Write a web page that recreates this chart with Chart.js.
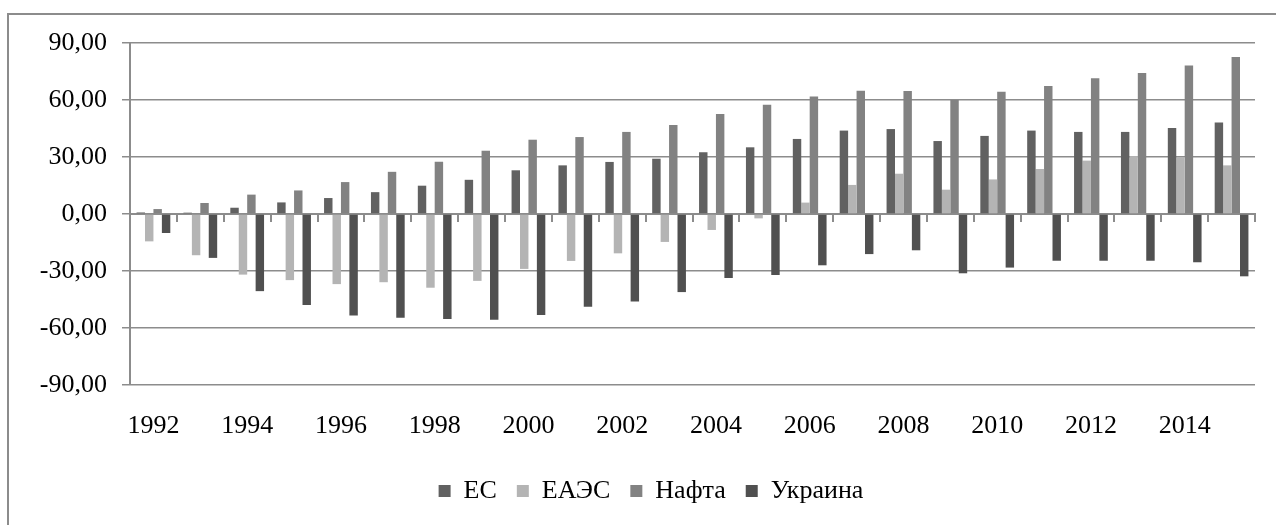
<!DOCTYPE html>
<html>
<head>
<meta charset="utf-8">
<script src="https://cdn.jsdelivr.net/npm/chart.js@4"></script>
<style>
  html, body { margin: 0; padding: 0; background: #fff; overflow: hidden; width: 1276px; height: 525px; }
  #frame { position: absolute; left: 7px; top: 13px; width: 2000px; height: 2000px; border: 2px solid #8c8c8c; box-sizing: border-box; }
  #c { position: absolute; left: 0; top: 0; }
</style>
</head>
<body>
<div id="frame"></div>
<canvas id="c" width="1276" height="525"></canvas>
<script>
const years = ['1992','1993','1994','1995','1996','1997','1998','1999','2000','2001','2002','2003',
               '2004','2005','2006','2007','2008','2009','2010','2011','2012','2013','2014','2015'];
const seriesNames = ['ЕС', 'ЕАЭС', 'Нафта', 'Украина'];
const ec      = [0.8, 0.7, 3.3, 6.1, 8.4, 11.5, 14.9, 18.0, 23.0, 25.6, 27.4, 29.1, 32.5, 35.1, 39.5, 43.9, 44.7, 38.4, 41.1, 43.9, 43.2, 43.2, 45.3, 48.2];
const eaes    = [-14.4, -21.7, -31.9, -34.8, -36.9, -35.9, -38.8, -35.2, -28.9, -24.7, -20.7, -14.7, -8.4, -2.3, 6.0, 15.3, 21.2, 12.8, 18.2, 23.7, 28.1, 30.5, 30.0, 25.6];
const nafta   = [2.6, 5.8, 10.2, 12.4, 16.8, 22.2, 27.5, 33.3, 39.1, 40.5, 43.2, 46.8, 52.6, 57.5, 61.9, 64.9, 64.7, 60.0, 64.4, 67.4, 71.4, 74.2, 78.2, 82.6];
const ukraine = [-10.0, -23.1, -40.6, -47.9, -53.4, -54.6, -55.3, -55.6, -53.2, -48.8, -46.1, -41.1, -33.7, -32.1, -27.0, -21.1, -19.1, -31.2, -28.2, -24.6, -24.6, -24.6, -25.4, -32.8];
const yTicks = [-90, -60, -30, 0, 30, 60, 90];

const colors = ['#616161', '#b4b4b4', '#828282', '#505050'];
const values = [ec, eaes, nafta, ukraine];
const FONT = "'Liberation Serif', 'Times New Roman', serif";
const GRID = '#8c8c8c';

const legendShift = {
  id: 'legendShift',
  afterLayout(chart) {
    if (chart.legend) { chart.legend.left = 47; }
  }
};

new Chart(document.getElementById('c'), {
  type: 'bar',
  data: {
    labels: years,
    datasets: seriesNames.map((n, i) => ({
      label: n,
      data: values[i],
      backgroundColor: colors[i],
      borderWidth: 0,
      barPercentage: 1.0,
      categoryPercentage: 0.72
    }))
  },
  plugins: [legendShift],
  options: {
    responsive: false,
    animation: false,
    devicePixelRatio: 1,
    layout: { padding: { top: 43, left: 20, right: 21, bottom: 11 } },
    plugins: {
      tooltip: { enabled: false },
      legend: {
        position: 'bottom',
        labels: {
          font: { family: FONT, size: 26 },
          color: '#000',
          boxWidth: 12,
          boxHeight: 12,
          padding: 20
        }
      }
    },
    scales: {
      x: {
        position: 'bottom',
        offset: true,
        grid: { display: false },
        border: { display: false },
        ticks: {
          autoSkip: false,
          maxRotation: 0,
          padding: 18,
          color: '#000',
          font: { family: FONT, size: 26 },
          callback: function (v, i) { return i % 2 === 0 ? years[i] : ''; }
        },
        afterFit: function (s) { s.height = 73; }
      },
      x0: {
        type: 'category',
        axis: 'x',
        position: { y: 0 },
        offset: true,
        grid: { display: true, drawOnChartArea: false, drawTicks: true, tickLength: 7, offset: true, color: GRID, lineWidth: 2 },
        border: { display: true, color: GRID, width: 2 },
        ticks: { display: false }
      },
      y: {
        min: -90,
        max: 90,
        afterBuildTicks: function (s) { s.ticks = yTicks.map(v => ({ value: v })); },
        grid: { color: GRID, lineWidth: 1.5, tickLength: 8, drawTicks: true },
        border: { display: true, color: GRID, width: 2 },
        ticks: {
          padding: 15,
          color: '#000',
          font: { family: FONT, size: 26 },
          callback: function (v) { return v.toFixed(2).replace('.', ','); }
        },
        afterFit: function (s) { s.width = 110; }
      }
    }
  }
});
</script>
</body>
</html>
